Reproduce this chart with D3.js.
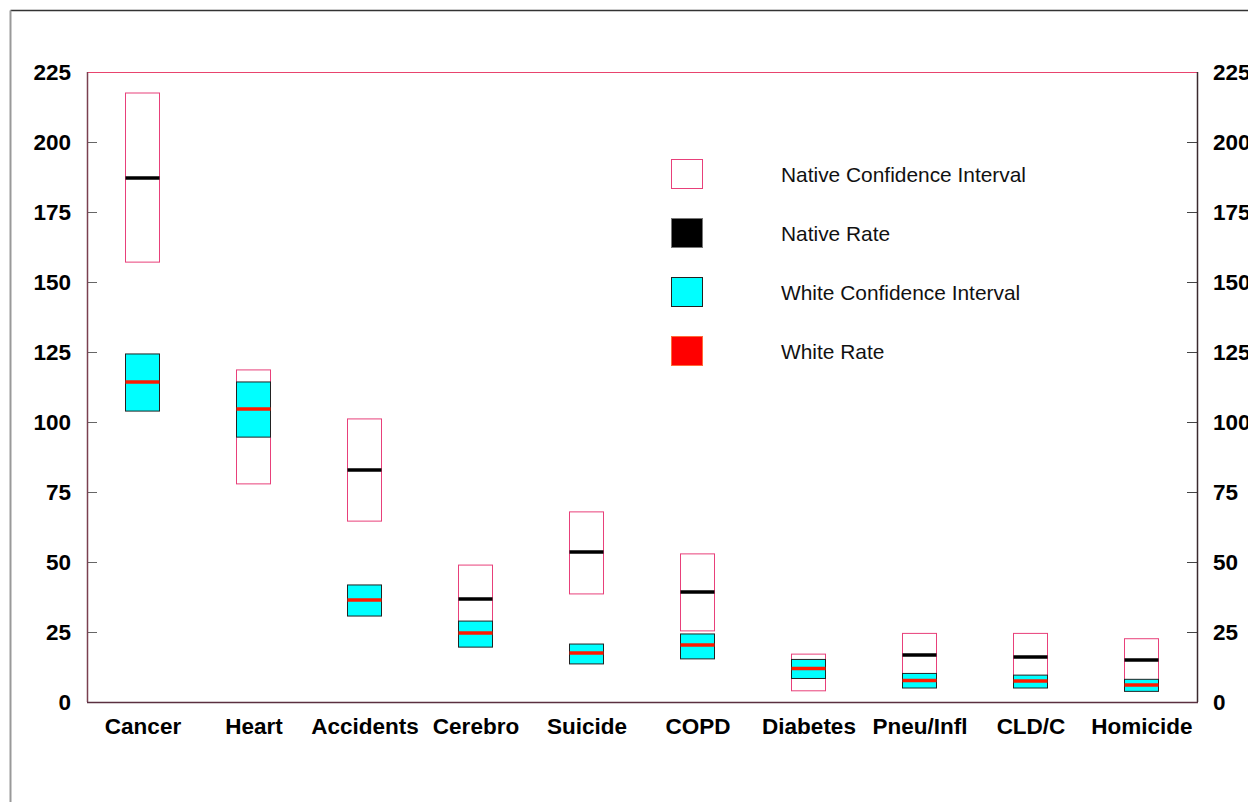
<!DOCTYPE html>
<html>
<head>
<meta charset="utf-8">
<script src="https://cdn.jsdelivr.net/npm/d3@7/dist/d3.min.js"></script>
<style>
  body { margin: 0; background: #fff; overflow: hidden; }
  text { font-family: "Liberation Sans", Arial, sans-serif; }
</style>
</head>
<body>
<div id="chart"></div>
<script>
// Causes of death, rates with confidence intervals
const causes = ['Cancer', 'Heart', 'Accidents', 'Cerebro', 'Suicide', 'COPD', 'Diabetes', 'Pneu/Infl', 'CLD/C', 'Homicide'];
const nativeLow  = [157.1, 77.9, 64.6, 24.0, 38.6, 25.4, 4.0, 6.0, 6.0, 4.5];
const nativeHigh = [217.5, 118.6, 101.1, 48.9, 67.9, 52.9, 17.1, 24.5, 24.5, 22.6];
const nativeRate = [187.1, 98.0, 82.9, 36.8, 53.6, 39.3, 11.0, 16.8, 16.1, 15.0];
const whiteLow   = [103.9, 94.6, 30.7, 19.6, 13.6, 15.4, 8.4, 5.0, 5.0, 3.8];
const whiteHigh  = [124.3, 114.3, 41.8, 28.9, 20.7, 24.3, 15.2, 10.2, 9.6, 8.1];
const whiteRate  = [114.3, 104.6, 36.4, 24.6, 17.5, 20.4, 12.0, 7.7, 7.5, 6.1];
const yTicks = [0, 25, 50, 75, 100, 125, 150, 175, 200, 225];
const legendItems = ['Native Confidence Interval', 'Native Rate', 'White Confidence Interval', 'White Rate'];

const width = 1248, height = 802;
const plot = { left: 87, right: 1197, top: 72, bottom: 702 };
const boxW = 34;

const svg = d3.select('#chart').append('svg')
    .attr('width', width)
    .attr('height', height);

// outer frame
svg.append('line').attr('x1', 10.5).attr('x2', width).attr('y1', 10.5).attr('y2', 10.5)
    .attr('stroke', '#333').attr('stroke-width', 1.5);
svg.append('line').attr('x1', 10.5).attr('x2', 10.5).attr('y1', 10.5).attr('y2', height)
    .attr('stroke', '#999').attr('stroke-width', 2);

const x = d3.scalePoint()
    .domain(causes)
    .range([plot.left, plot.right])
    .padding(0.5);

const y = d3.scaleLinear()
    .domain([0, 225])
    .range([plot.bottom, plot.top]);

const rows = causes.map((c, i) => ({
    cause: c,
    nLo: nativeLow[i], nHi: nativeHigh[i], nRate: nativeRate[i],
    wLo: whiteLow[i], wHi: whiteHigh[i], wRate: whiteRate[i]
}));

// axes
const tickFont = g => g.selectAll('text')
    .style('font-size', '22.5px')
    .style('font-weight', 'bold')
    .attr('fill', '#000');

svg.append('g')
    .attr('transform', `translate(${plot.left},0)`)
    .call(d3.axisLeft(y).tickValues(yTicks).tickSizeInner(-10).tickSizeOuter(0).tickPadding(16))
    .call(g => g.select('.domain').remove())
    .call(g => g.selectAll('line').attr('stroke', '#666'))
    .call(tickFont);

svg.append('g')
    .attr('transform', `translate(${plot.right},0)`)
    .call(d3.axisRight(y).tickValues(yTicks).tickSizeInner(-10).tickSizeOuter(0).tickPadding(16))
    .call(g => g.select('.domain').remove())
    .call(g => g.selectAll('line').attr('stroke', '#444'))
    .call(tickFont);

svg.append('g')
    .attr('transform', `translate(0,${plot.bottom})`)
    .call(d3.axisBottom(x).tickSize(0).tickPadding(16))
    .call(g => g.select('.domain').remove())
    .call(tickFont);

// plot frame
svg.append('line').attr('x1', plot.left).attr('x2', plot.right).attr('y1', plot.top + 0.5).attr('y2', plot.top + 0.5)
    .attr('stroke', '#e8446e');
svg.append('line').attr('x1', plot.left + 0.5).attr('x2', plot.left + 0.5).attr('y1', plot.top).attr('y2', plot.bottom)
    .attr('stroke', '#7a4050').attr('stroke-width', 1.5);
svg.append('line').attr('x1', plot.right + 0.5).attr('x2', plot.right + 0.5).attr('y1', plot.top).attr('y2', plot.bottom)
    .attr('stroke', '#3a2a2e').attr('stroke-width', 1.5);
svg.append('line').attr('x1', plot.left).attr('x2', plot.right + 1).attr('y1', plot.bottom + 0.5).attr('y2', plot.bottom + 0.5)
    .attr('stroke', '#5a3040').attr('stroke-width', 1.5);

// boxes
const g = svg.append('g');

g.selectAll('.native-ci')
    .data(rows)
    .enter().append('rect')
    .attr('class', 'native-ci')
    .attr('x', d => x(d.cause) - boxW / 2)
    .attr('y', d => y(d.nHi))
    .attr('width', boxW)
    .attr('height', d => y(d.nLo) - y(d.nHi))
    .attr('fill', '#fff')
    .attr('stroke', '#e8407a')
    .attr('stroke-width', 1);

g.selectAll('.native-rate')
    .data(rows)
    .enter().append('line')
    .attr('class', 'native-rate')
    .attr('x1', d => x(d.cause) - boxW / 2)
    .attr('x2', d => x(d.cause) + boxW / 2)
    .attr('y1', d => y(d.nRate))
    .attr('y2', d => y(d.nRate))
    .attr('stroke', '#000')
    .attr('stroke-width', 3.5);

g.selectAll('.white-ci')
    .data(rows)
    .enter().append('rect')
    .attr('class', 'white-ci')
    .attr('x', d => x(d.cause) - boxW / 2)
    .attr('y', d => y(d.wHi))
    .attr('width', boxW)
    .attr('height', d => y(d.wLo) - y(d.wHi))
    .attr('fill', '#00ffff')
    .attr('stroke', '#222')
    .attr('stroke-width', 1);

g.selectAll('.white-rate')
    .data(rows)
    .enter().append('line')
    .attr('class', 'white-rate')
    .attr('x1', d => x(d.cause) - boxW / 2)
    .attr('x2', d => x(d.cause) + boxW / 2)
    .attr('y1', d => y(d.wRate))
    .attr('y2', d => y(d.wRate))
    .attr('stroke', '#ff1a00')
    .attr('stroke-width', 3.5);

// legend
const legendFill = ['#fff', '#000', '#00ffff', '#ff0000'];
const legendStroke = ['#e8407a', '#777', '#222', '#ff6a3a'];

const legend = svg.append('g')
    .attr('transform', 'translate(671,159)');

const item = legend.selectAll('.item')
    .data(legendItems)
    .enter().append('g')
    .attr('class', 'item')
    .attr('transform', (d, i) => `translate(0,${i * 59})`);

item.append('rect')
    .attr('x', 0.5)
    .attr('y', 0.5)
    .attr('width', 31)
    .attr('height', 29)
    .attr('fill', (d, i) => legendFill[i])
    .attr('stroke', (d, i) => legendStroke[i]);

item.append('text')
    .attr('x', 110)
    .attr('y', 16)
    .attr('dy', '0.35em')
    .style('font-size', '20.9px')
    .attr('fill', '#111')
    .text(d => d);
</script>
</body>
</html>
